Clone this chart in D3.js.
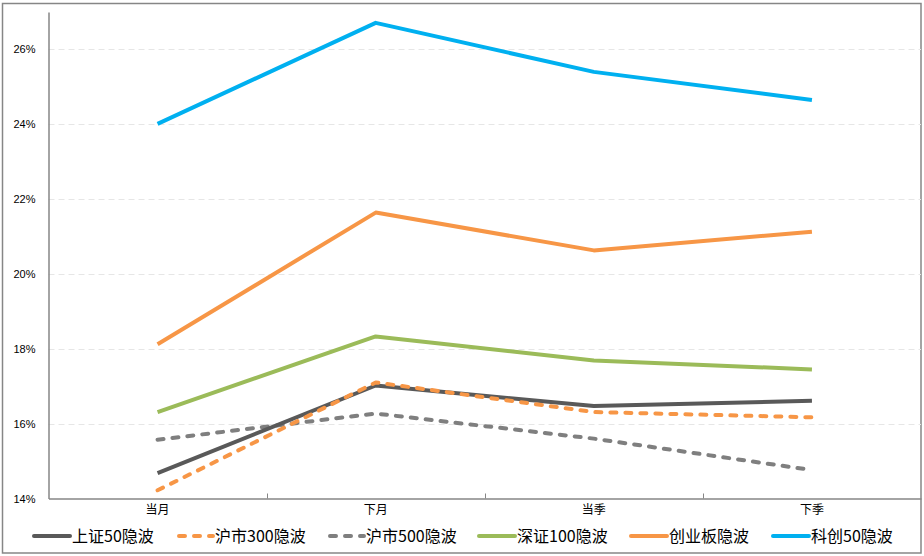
<!DOCTYPE html>
<html><head><meta charset="utf-8">
<script src="https://cdn.jsdelivr.net/npm/d3@7/dist/d3.min.js"></script>
<style>body{margin:0;background:#fff;}svg{display:block;}</style>
</head><body>
<svg id="c" width="924" height="556"></svg>
<script>
const categories = ["当月","下月","当季","下季"];
const seriesNames = ["上证50隐波","沪市300隐波","沪市500隐波","深证100隐波","创业板隐波","科创50隐波"];
const sz50 = [14.68, 17.02, 16.47, 16.61];
const hs300 = [14.22, 17.10, 16.31, 16.17];
const hs500 = [15.57, 16.27, 15.60, 14.76];
const sz100 = [16.31, 18.33, 17.69, 17.45];
const cyb = [18.12, 21.64, 20.63, 21.13];
const kc50 = [24.01, 26.71, 25.40, 24.65];
const yTicks = [14, 16, 18, 20, 22, 24, 26];

const seriesValues = [sz50, hs300, hs500, sz100, cyb, kc50];
const colors = ["#595959","#F79646","#7F7F7F","#9BBB59","#F79646","#00B0F0"];
const dashed = [false, true, true, false, false, false];

const svg = d3.select("#c");
const L = 48.5, R = 921, T = 12, B = 498.5;

const x = d3.scaleBand().domain(categories).range([L, R]).padding(0);
const y = d3.scaleLinear().domain([14, 27]).range([B, T]);

// outer frame
svg.append("rect").attr("x",2.5).attr("y",3.5).attr("width",918.5).attr("height",549.5)
  .attr("fill","#fff").attr("stroke","#868686").attr("stroke-width",1.5);

// gridlines
svg.append("g").selectAll("line").data(yTicks.filter(d=>d>14)).join("line")
  .attr("x1",L).attr("x2",R).attr("y1",d=>Math.round(y(d))+0.5).attr("y2",d=>Math.round(y(d))+0.5)
  .attr("stroke","#e6e6e6").attr("stroke-width",1).attr("stroke-dasharray","6,4");

// y axis
const yAxis = d3.axisLeft(y).tickValues(yTicks).tickSize(0).tickPadding(13).tickFormat(d=>d+"%");
const gy = svg.append("g").attr("transform",`translate(${L},0)`).call(yAxis);
gy.select(".domain").attr("stroke","#868686").attr("stroke-width",1.5);
gy.selectAll("text").attr("font-family","'Liberation Sans', Arial, sans-serif").attr("font-size",11).attr("fill","#000");

// x axis
const xAxis = d3.axisBottom(x).tickSize(0).tickPadding(7);
const gx = svg.append("g").attr("transform",`translate(0,${B})`).call(xAxis);
gx.select(".domain").attr("stroke","#868686").attr("stroke-width",1.5);
gx.selectAll("text").attr("font-family","'Noto Sans CJK SC', sans-serif").attr("font-size",12).attr("fill","#000");
// boundary ticks pointing up
const bounds = categories.map(c=>x(c)).concat([R]);
svg.append("g").selectAll("line").data(bounds.slice(1,-1)).join("line")
  .attr("x1",d=>Math.round(d)+0.5).attr("x2",d=>Math.round(d)+0.5).attr("y1",B).attr("y2",B-5)
  .attr("stroke","#868686").attr("stroke-width",1);

// lines
const line = d3.line().x((d,i)=>x(categories[i])+x.bandwidth()/2).y(d=>y(d));
const order = [4,5,3,2,0,1];
order.forEach(k=>{
  svg.append("path").datum(seriesValues[k]).attr("d",line)
    .attr("fill","none").attr("stroke",colors[k]).attr("stroke-width",4)
    .attr("stroke-linejoin","round")
    .attr("stroke-linecap", dashed[k] ? "round" : "butt")
    .attr("stroke-dasharray", dashed[k] ? "6,9" : null);
});

// legend
const legX = [34, 177, 328, 479, 631, 773];
const lg = svg.append("g");
seriesNames.forEach((n,k)=>{
  const ly = 536;
  lg.append("line").attr("x1",legX[k]+ (dashed[k]?2:0)).attr("x2",legX[k]+36).attr("y1",ly).attr("y2",ly)
    .attr("stroke",colors[k]).attr("stroke-width",4)
    .attr("stroke-linecap", dashed[k] ? "round" : "round")
    .attr("stroke-dasharray", dashed[k] ? "6,9" : null);
  lg.append("text").attr("x",legX[k]+38).attr("y",ly).attr("dy","0.36em")
    .attr("font-family","'Noto Sans CJK SC', sans-serif").attr("font-size",16).attr("fill","#000").text(n);
});
</script>
</body></html>
